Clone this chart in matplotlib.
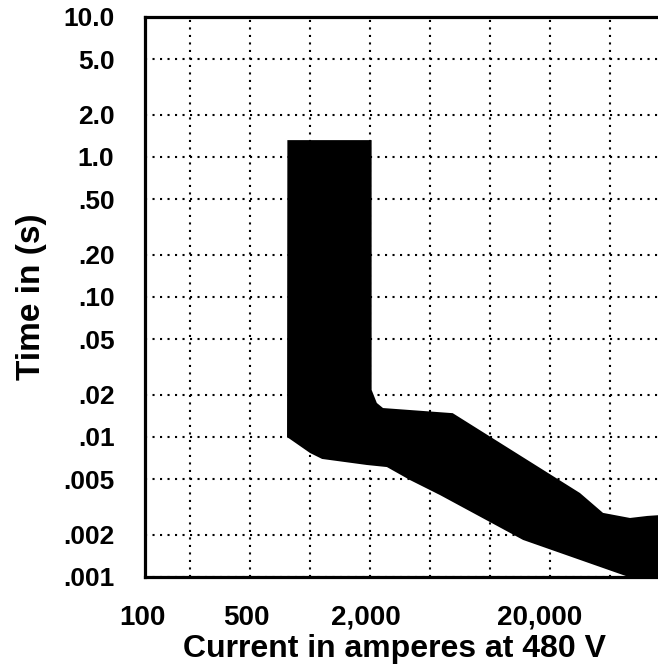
import matplotlib
matplotlib.use('Agg')
import matplotlib.pyplot as plt
import matplotlib.transforms as mtransforms
import numpy as np

# band of the trip curve, upper edge (left to right) and lower edge (right to left)
top_amps = [770, 2050, 2050, 2220, 2440, 6500, 31600, 44950, 63000, 77000, 100000]
top_time = [1.32, 1.32, 0.0217, 0.0175, 0.0161, 0.0148, 0.00398, 0.00287, 0.00264, 0.00273, 0.0028]
bottom_amps = [100000, 54200, 14650, 5610, 3680, 2590, 1930, 1150, 1000, 767]
bottom_time = [0.00079, 0.00107, 0.00184, 0.00385, 0.00493, 0.0061, 0.00631, 0.00697, 0.00769, 0.01]

x_grid = [100, 200, 500, 1000, 2000, 5000, 10000, 20000, 50000, 100000]
x_labels = ['100', '', '500', '', '2,000', '', '', '20,000', '', '']
y_ticks = [10, 5, 2, 1, .5, .2, .1, .05, .02, .01, .005, .002, .001]
y_labels = ['10.0', '5.0', '2.0', '1.0', '.50', '.20', '.10', '.05', '.02', '.01', '.005', '.002', '.001']

# the current axis of the original is drawn with evenly spaced grid lines
grid_pos = [0, 0.75, 1.75, 2.75, 3.75, 4.75, 5.75, 6.75, 7.75, 8.75]
lg = np.log10(x_grid)

def fwd(x):
    x = np.clip(np.asarray(x, dtype=float), 1e-9, None)
    return np.interp(np.log10(x), lg, grid_pos)

def inv(p):
    return 10 ** np.interp(np.asarray(p, dtype=float), grid_pos, lg)

plt.rcParams['font.family'] = ['Liberation Sans', 'DejaVu Sans']
plt.rcParams['font.weight'] = 'bold'

fig = plt.figure(figsize=(6.58, 6.67), dpi=100)
ax = fig.add_axes([145 / 658, 90 / 667, 525 / 658, 560 / 667])
ax.set_xscale('function', functions=(fwd, inv))
ax.set_yscale('log')
ax.set_xlim(100, 100000)
ax.set_ylim(0.001, 10)

ax.fill(top_amps + bottom_amps, top_time + bottom_time, color='black', lw=0, zorder=3)

ax.set_xticks(x_grid)
ax.set_xticklabels(x_labels)
ax.set_yticks(y_ticks)
ax.set_yticklabels(y_labels)
ax.xaxis.set_minor_locator(matplotlib.ticker.NullLocator())
ax.yaxis.set_minor_locator(matplotlib.ticker.NullLocator())
ax.tick_params(axis='both', length=0)
ax.tick_params(axis='x', pad=20, labelsize=20)
ax.tick_params(axis='y', pad=22, labelsize=19)
for lab in ax.get_xticklabels() + ax.get_yticklabels():
    lab.set_fontweight('bold')
# nudge the current labels a little left, as in the original
for lab, dx in zip(ax.get_xticklabels(), [-3, 0, -4, 0, -4, 0, 0, -10, 0, 0]):
    lab.set_transform(lab.get_transform() + mtransforms.ScaledTranslation(dx / 100, 0, fig.dpi_scale_trans))

ax.grid(True, color='black', linestyle=(0, (1, 2.6)), linewidth=1.5, zorder=1)
ax.set_axisbelow(True)
for s in ax.spines.values():
    s.set_linewidth(2.3)
    s.set_zorder(4)

ax.set_xlabel('Current in amperes at 480 V', fontsize=23, fontweight='bold')
ax.xaxis.set_label_coords(0.476, -0.102)
ax.set_ylabel('Time in (s)', fontsize=24, fontweight='bold', labelpad=12)

fig.savefig('out.png', dpi=100)
